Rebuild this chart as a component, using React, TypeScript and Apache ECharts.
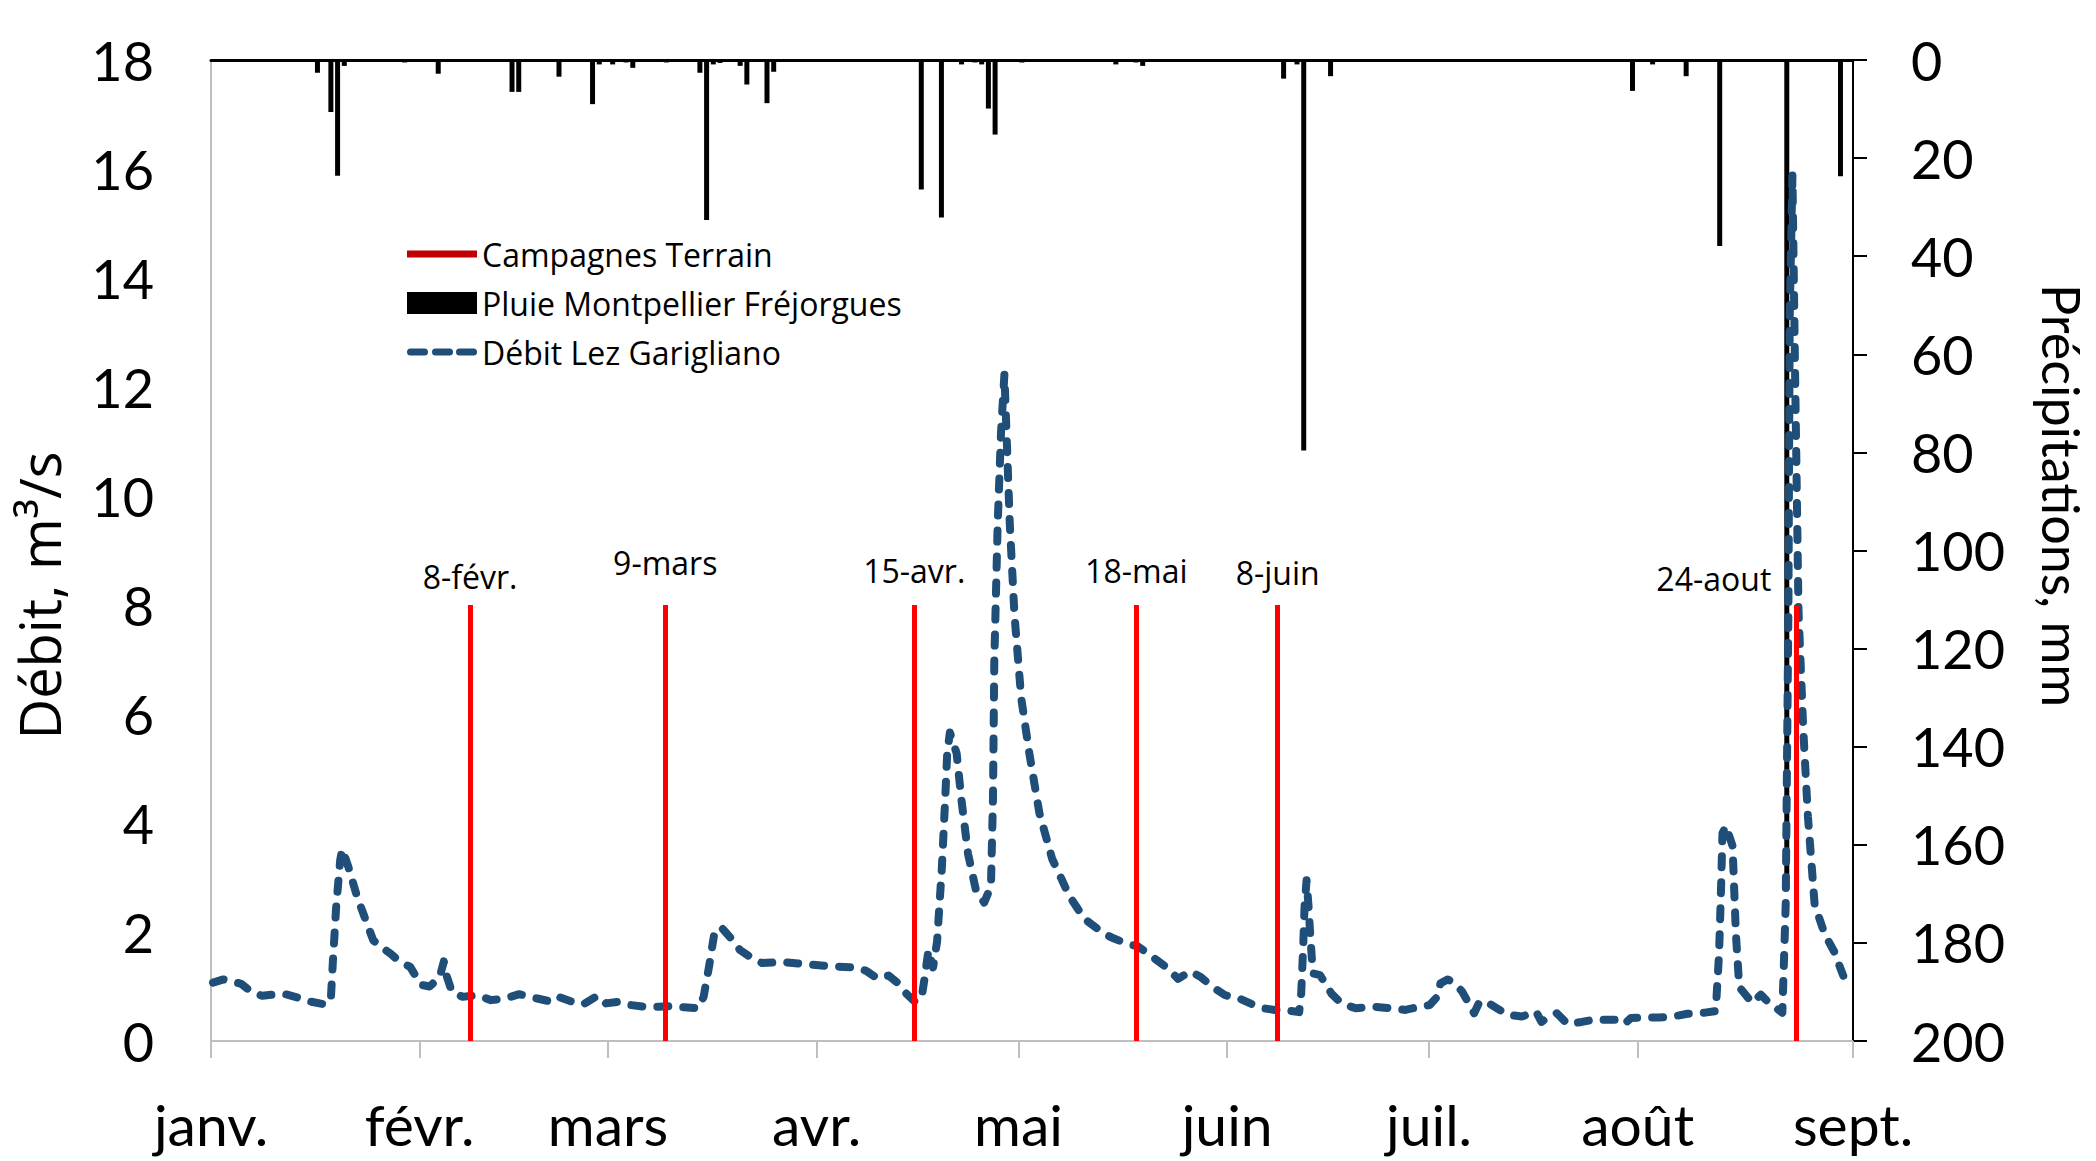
import React, { useEffect, useRef } from 'react';
import * as echarts from 'echarts';

const YEAR = 2015;
const monthLabels = ['janv.', 'févr.', 'mars', 'avr.', 'mai', 'juin', 'juil.', 'août', 'sept.', 'oct.', 'nov.', 'déc.'];

// Débit Lez Garigliano: position in days since 1 Jan, discharge (m3/s)
const flowDay = [
  0.3, 1.85, 4.5, 6.0, 7.6, 10.0, 11.0, 12.8, 14.9, 17.0, 17.8, 18.1, 18.6, 19.2, 19.5, 20.4, 21.7, 22.8, 24.1, 25.1,
  26.7, 28.0, 29.6, 31.2, 32.5, 34.0, 34.6, 34.9, 35.8, 37.4, 39.5, 41.6, 43.7, 45.8, 48.5, 50.6, 51.6, 53.7, 55.3, 57.4,
  58.7, 60.5, 62.4, 64.2, 66.5, 68.4, 70.3, 72.4, 73.2, 74.0, 74.8, 75.8, 77.3, 78.6, 80.4, 81.9, 84.9, 88.3, 92.2, 95.6,
  97.3, 99.0, 100.7, 101.9, 103.4, 104.6, 105.6, 106.1, 106.6, 107.3, 107.9, 108.6, 109.1, 109.4, 109.8, 110.8, 111.5, 112.5, 113.7, 114.9,
  115.9, 116.2, 116.4, 116.9, 117.4, 117.9, 118.7, 119.4, 120.4, 121.6, 123.1, 125.0, 126.4, 127.5, 129.8, 132.8, 134.2, 136.2, 137.7, 139.6,
  142.0, 143.7, 145.5, 147.0, 149.1, 150.7, 152.8, 154.6, 156.4, 158.6, 160.1, 161.7, 162.0, 162.3, 162.5, 162.8, 163.1, 163.3, 163.6, 163.8,
  164.8, 165.4, 166.5, 168.0, 170.1, 172.8, 175.4, 177.5, 179.6, 181.1, 182.2, 182.7, 183.8, 184.8, 185.9, 186.9, 187.7, 188.5, 189.5, 191.1,
  192.7, 194.8, 196.9, 197.7, 198.5, 200.0, 201.6, 203.7, 205.8, 207.1, 208.9, 210.0, 211.0, 213.1, 215.2, 217.3, 219.4, 222.0, 223.6, 224.1,
  224.4, 224.6, 225.1, 226.1, 226.6, 227.1, 229.0, 230.3, 231.5, 233.5, 234.0, 234.4, 234.6, 235.0, 235.4, 235.9, 236.6, 237.3, 238.3, 239.8,
  241.2, 242.7,
];
const flowValue = [
  1.07, 1.13, 1.05, 0.9, 0.83, 0.86, 0.86, 0.8, 0.72, 0.67, 0.75, 1.43, 2.46, 3.32, 3.52, 3.2, 2.65, 2.28, 1.85, 1.74,
  1.6, 1.46, 1.36, 1.03, 1.0, 1.18, 1.46, 1.24, 0.9, 0.81, 0.84, 0.75, 0.78, 0.86, 0.78, 0.72, 0.81, 0.72, 0.67, 0.83,
  0.69, 0.72, 0.66, 0.63, 0.63, 0.64, 0.62, 0.6, 0.81, 1.36, 1.98, 2.09, 1.88, 1.67, 1.52, 1.43, 1.45, 1.41, 1.37, 1.35,
  1.29, 1.15, 1.2, 1.08, 0.86, 0.72, 0.8, 1.2, 1.66, 1.35, 1.83, 3.17, 4.44, 5.28, 5.66, 5.28, 4.44, 3.43, 2.75, 2.54,
  2.84, 4.44, 6.97, 9.49, 11.18, 12.23, 9.49, 7.81, 6.29, 5.28, 4.18, 3.34, 2.97, 2.67, 2.24, 1.96, 1.88, 1.78, 1.74, 1.57,
  1.35, 1.14, 1.28, 1.18, 0.97, 0.84, 0.78, 0.68, 0.6, 0.56, 0.56, 0.53, 0.87, 1.73, 2.46, 2.95, 2.46, 2.04, 1.49, 1.24,
  1.21, 1.09, 0.87, 0.69, 0.6, 0.63, 0.6, 0.57, 0.63, 0.66, 0.81, 1.06, 1.13, 1.06, 0.91, 0.69, 0.51, 0.72, 0.72, 0.6,
  0.48, 0.45, 0.54, 0.35, 0.42, 0.51, 0.31, 0.35, 0.4, 0.39, 0.39, 0.31, 0.42, 0.43, 0.43, 0.45, 0.5, 0.52, 0.55, 1.61,
  2.83, 3.81, 3.95, 3.58, 1.96, 0.99, 0.7, 0.85, 0.7, 0.52, 2.5, 7.9, 13.3, 15.88, 12.2, 7.9, 5.74, 4.12, 2.5, 1.96,
  1.64, 1.15,
];

// Pluie Montpellier Fréjorgues: daily rainfall (mm)
const rainDate = [
  '01-16', '01-18', '01-19', '01-20', '01-29', '02-03', '02-14', '02-15', '02-21', '02-26', '02-27', '03-01', '03-03', '03-04', '03-09',
  '03-14', '03-15', '03-16', '03-17', '03-20', '03-21', '03-24', '03-25', '04-16', '04-19', '04-22', '04-24', '04-25', '04-26', '04-27',
  '05-01', '05-15', '05-18', '05-19', '06-09', '06-11', '06-12', '06-16', '07-31', '08-03', '08-08', '08-13', '08-23', '08-28', '08-31',
];
const rainMm = [
  2.6, 10.6, 23.6, 1.2, 0.5, 2.8, 6.5, 6.5, 3.4, 9.0, 0.9, 0.9, 0.5, 1.6, 0.5,
  2.6, 32.6, 0.9, 0.6, 1.2, 5.0, 8.8, 2.4, 26.4, 32.1, 0.9, 0.5, 0.9, 9.9, 15.2,
  0.5, 0.9, 0.5, 1.2, 3.8, 0.9, 79.6, 3.3, 6.3, 0.9, 3.3, 37.9, 169, 0.4, 23.7,
];

// Campagnes Terrain
const campaignDate = ['02-08', '03-09', '04-15', '05-18', '06-08', '08-24'];
const campaignLabel = ['8-févr.', '9-mars', '15-avr.', '18-mai', '8-juin', '24-aout'];
const campaignTop = 8;

// label placement (styling only)
const campaignLabelNudge = [[0, -8], [0, -22], [0, -14], [0, -14], [0, -12], [-82, -6]];

const DAY = 86400000;
const base = new Date(YEAR, 0, 1).getTime();
const md = (s: string) => {
  const [m, d] = s.split('-').map(Number);
  return new Date(YEAR, m - 1, d, 12).getTime();
};

// legend icons (styling)
const lineIcon = 'path://M0,0L0,0M0,7.5H70V14.5H0ZM0,22L0,22';
const dash = (a: number, b: number) =>
  `M${a + 3.5},7.5H${b - 3.5}A3.5,3.5,0,0,1,${b - 3.5},14.5H${a + 3.5}A3.5,3.5,0,0,1,${a + 3.5},7.5Z`;
const dashIcon = 'path://M0,0L0,0' + dash(0, 21) + dash(25, 46) + dash(49, 70) + 'M70,22L70,22';

export default function App() {
  const ref = useRef<HTMLDivElement>(null);
  useEffect(() => {
    if (!ref.current) return;
    const chart = echarts.init(ref.current, undefined, { renderer: 'svg' });
    const axisFont = 'Lato';
    const xMin = base;
    const xMax = base + 244 * DAY;
    const option: any = {
      animation: false,
      textStyle: { fontFamily: axisFont },
      grid: { left: 211, top: 60, width: 1665, height: 981, containLabel: false },
      legend: {
        orient: 'vertical',
        left: 402,
        top: 233,
        itemWidth: 70,
        itemHeight: 22,
        itemGap: 17,
        itemStyle: { borderWidth: 0 },
        data: [
          { name: 'Campagnes Terrain', icon: lineIcon },
          { name: 'Pluie Montpellier Fréjorgues', icon: 'rect' },
          { name: 'Débit Lez Garigliano', icon: dashIcon },
        ],
        textStyle: { fontSize: 32, color: '#000', fontFamily: 'Open Sans' },
      },
      xAxis: [
        {
          type: 'time',
          min: xMin,
          max: xMax,
          position: 'bottom',
          splitNumber: 8,
          minInterval: 28 * DAY,
          maxInterval: 31 * DAY,
          axisLine: { show: true, onZero: false, lineStyle: { color: '#BFBFBF', width: 2 } },
          axisTick: { show: true, length: 17, lineStyle: { color: '#BFBFBF', width: 2 } },
          axisLabel: {
            formatter: (v: number) => monthLabels[new Date(v).getMonth()],
            fontSize: 57,
            color: '#000',
            margin: 54,
            showMinLabel: true,
            showMaxLabel: true,
            hideOverlap: false,
          },
          splitLine: { show: false },
        },
        {
          type: 'time',
          min: xMin,
          max: xMax,
          position: 'top',
          axisLine: { show: true, onZero: false, lineStyle: { color: '#000', width: 3 } },
          axisTick: { show: false },
          axisLabel: { show: false },
          splitLine: { show: false },
        },
      ],
      yAxis: [
        {
          type: 'value',
          min: 0,
          max: 18,
          interval: 2,
          position: 'left',
          name: 'Débit, m³/s',
          nameLocation: 'middle',
          nameGap: 144,
          nameRotate: 90,
          nameTextStyle: { fontSize: 56, color: '#000', fontFamily: 'Open Sans', padding: [0, 90, 0, 0] },
          axisLine: { show: true, onZero: false, lineStyle: { color: '#BFBFBF', width: 2 } },
          axisTick: { show: false },
          axisLabel: { fontSize: 54, color: '#000', margin: 57 },
          splitLine: { show: false },
        },
        {
          type: 'value',
          min: 0,
          max: 200,
          interval: 20,
          inverse: true,
          position: 'right',
          name: 'Précipitations, mm',
          nameLocation: 'middle',
          nameGap: 183,
          nameRotate: -90,
          nameTextStyle: { fontSize: 52, color: '#000', padding: [0, 110, 0, 0] },
          axisLine: { show: true, onZero: false, lineStyle: { color: '#000', width: 2 } },
          axisTick: { show: true, inside: false, length: 14, lineStyle: { color: '#000', width: 2 } },
          axisLabel: { fontSize: 54, color: '#000', margin: 58 },
          splitLine: { show: false },
        },
      ],
      series: [
        {
          name: 'Campagnes Terrain',
          type: 'line',
          xAxisIndex: 0,
          yAxisIndex: 0,
          data: [],
          symbol: 'none',
          color: '#C00000',
          lineStyle: { color: '#C00000', width: 6 },
          z: 1,
          markLine: {
            silent: true,
            symbol: ['none', 'none'],
            animation: false,
            lineStyle: { color: '#FF0000', width: 5, type: 'solid' },
            label: {
              show: true,
              position: 'end',
              fontSize: 32,
              color: '#000',
              fontFamily: 'Open Sans',
              formatter: '{b}',
            },
            emphasis: { disabled: true },
            data: campaignDate.map((d, i) => [
              { coord: [md(d), 0], name: campaignLabel[i], label: { offset: campaignLabelNudge[i] } },
              { coord: [md(d), campaignTop] },
            ]),
          },
        },
        {
          name: 'Pluie Montpellier Fréjorgues',
          type: 'bar',
          xAxisIndex: 1,
          yAxisIndex: 1,
          data: rainDate.map((d, i) => [md(d), rainMm[i]]),
          barWidth: 5,
          itemStyle: { color: '#000' },
          color: '#000',
          z: 3,
        },
        {
          name: 'Débit Lez Garigliano',
          type: 'line',
          xAxisIndex: 0,
          yAxisIndex: 0,
          data: flowDay.map((t, i) => [base + t * DAY, flowValue[i]]),
          symbol: 'none',
          showSymbol: false,
          color: '#1F4E79',
          lineStyle: { color: '#1F4E79', width: 8, type: [11, 15], cap: 'round', join: 'round' },
          z: 4,
        },
      ],
    };
    chart.setOption(option);
    return () => chart.dispose();
  }, []);
  return <div ref={ref} style={{ position: 'fixed', left: 0, top: 0, width: 2096, height: 1161, background: '#fff' }} />;
}
